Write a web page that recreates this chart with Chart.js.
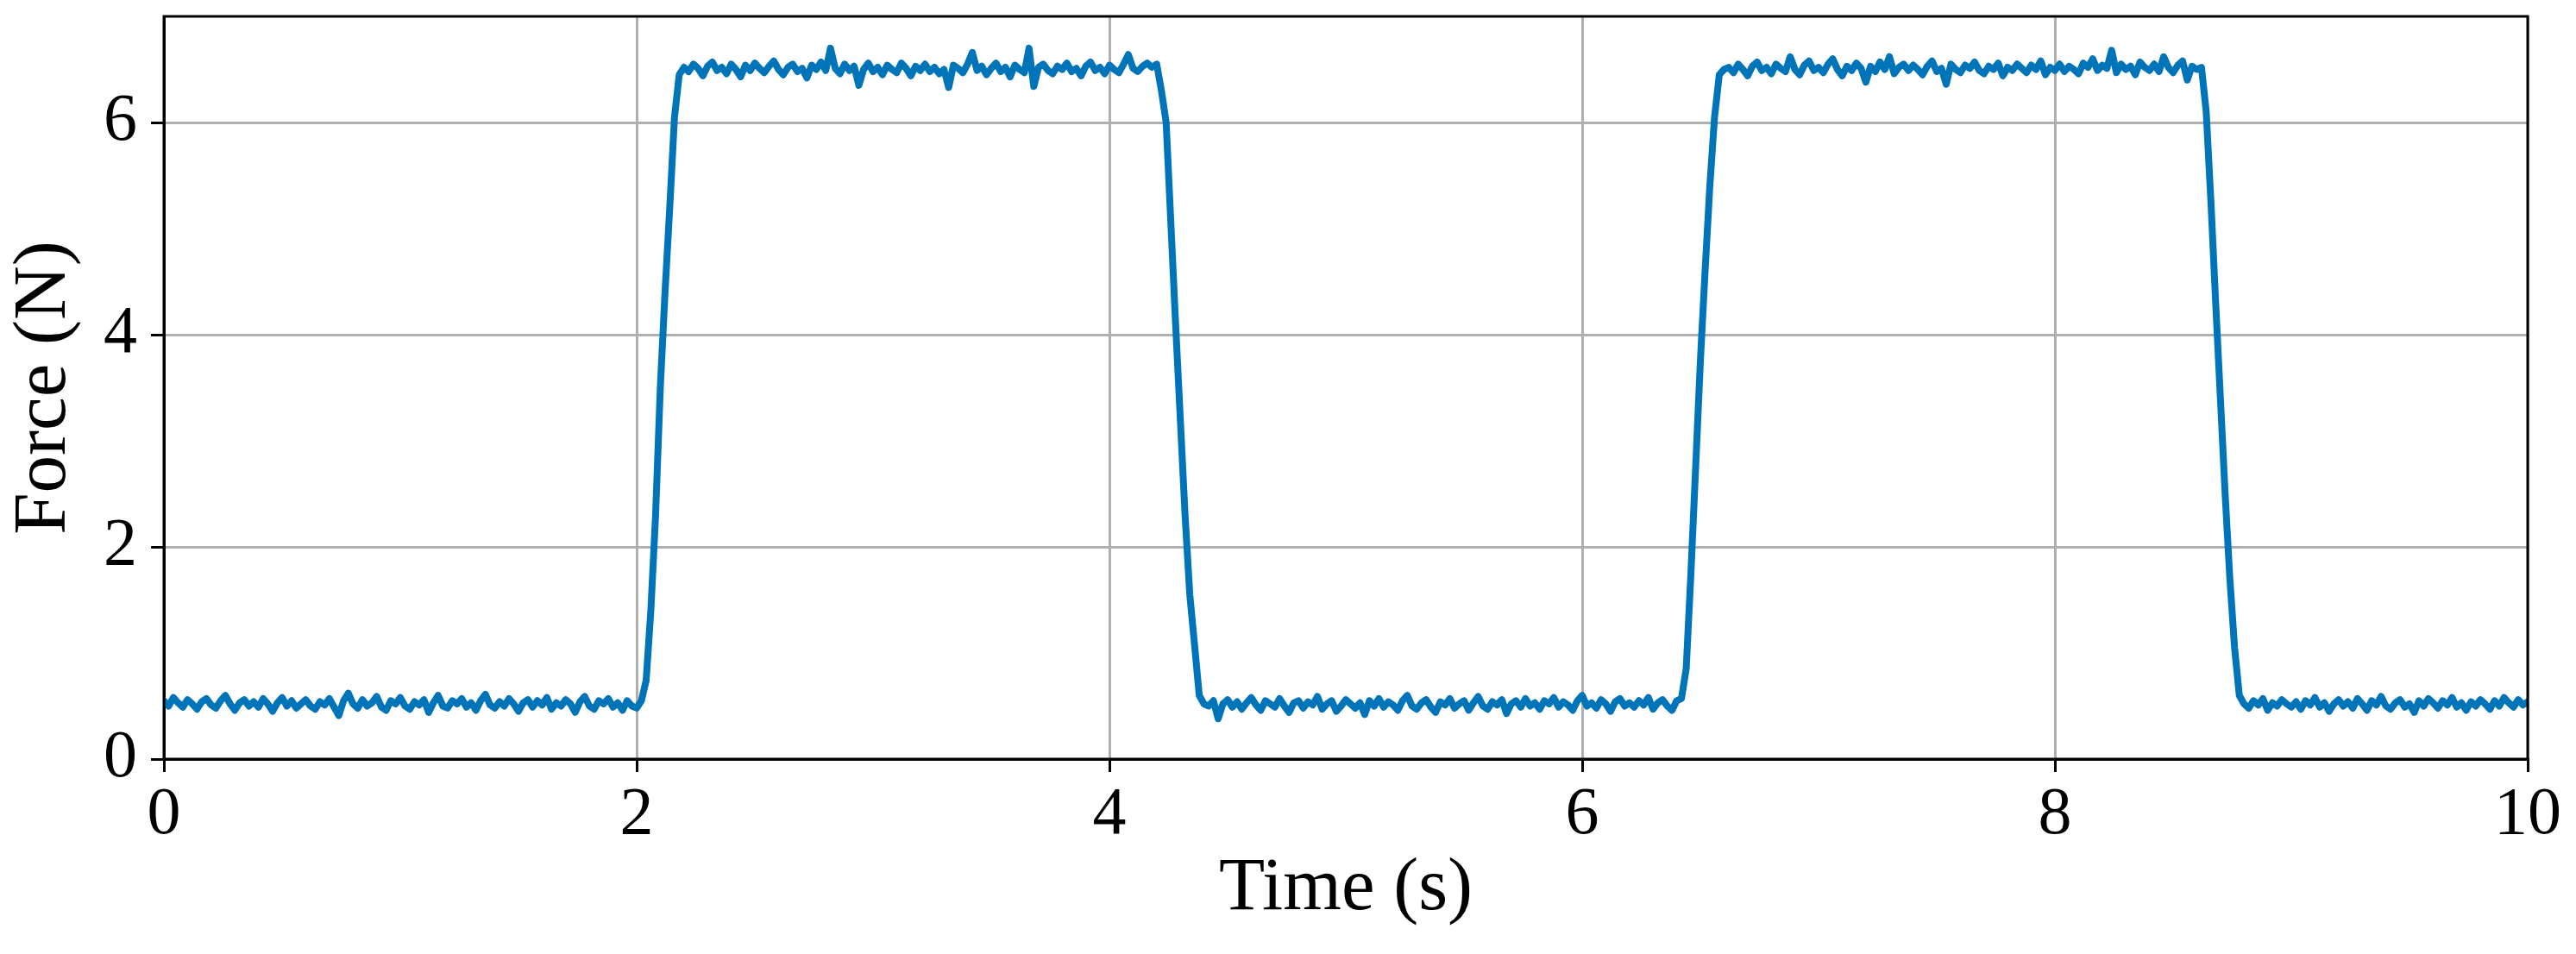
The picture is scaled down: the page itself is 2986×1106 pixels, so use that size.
<!DOCTYPE html>
<html>
<head>
<meta charset="utf-8">
<script src="https://cdn.jsdelivr.net/npm/chart.js@4.4.1/dist/chart.umd.min.js"></script>
<style>
  html, body { margin: 0; padding: 0; background: #ffffff; }
  #wrap { width: 2986px; height: 1106px; }
</style>
</head>
<body>
<div id="wrap"><canvas id="c" width="2986" height="1106"></canvas></div>
<script>
const timeStep = 0.02; // seconds between samples
const xTicks = [0, 2, 4, 6, 8, 10];
const yTicks = [0, 2, 4, 6];

// 0.00 – 2.00 s, low level
const lowA = [
  0.55,0.50,0.58,0.53,0.49,0.56,0.52,0.47,0.54,0.57,
  0.51,0.48,0.55,0.60,0.52,0.46,0.53,0.56,0.50,0.54,
  0.49,0.57,0.52,0.45,0.53,0.58,0.50,0.55,0.48,0.52,
  0.56,0.50,0.47,0.54,0.51,0.57,0.49,0.41,0.55,0.62,
  0.52,0.48,0.56,0.50,0.53,0.59,0.49,0.46,0.55,0.52,
  0.58,0.50,0.47,0.54,0.51,0.56,0.44,0.53,0.60,0.50,
  0.48,0.55,0.52,0.57,0.49,0.53,0.46,0.55,0.61,0.51,
  0.48,0.54,0.50,0.57,0.52,0.45,0.53,0.56,0.49,0.55,
  0.51,0.58,0.47,0.53,0.50,0.56,0.52,0.44,0.54,0.59,
  0.50,0.47,0.55,0.52,0.57,0.49,0.53,0.46,0.55,0.50,
  0.48
];
// 2.02 – 2.20 s, first rise
const rise1 = [0.55,0.74,1.40,2.30,3.50,4.40,5.20,6.05,6.45,6.52];
// 2.22 – 4.20 s, first high level
const high1 = [
  6.48,6.55,6.51,6.44,6.53,6.57,6.49,6.52,6.46,6.55,
  6.50,6.43,6.54,6.49,6.56,6.51,6.47,6.53,6.58,6.50,
  6.45,6.52,6.55,6.48,6.51,6.42,6.54,6.50,6.57,6.49,
  6.70,6.51,6.46,6.55,6.49,6.53,6.35,6.50,6.56,6.48,
  6.52,6.45,6.54,6.50,6.47,6.56,6.51,6.44,6.53,6.49,
  6.55,6.48,6.52,6.46,6.50,6.33,6.54,6.51,6.47,6.55,
  6.66,6.49,6.53,6.45,6.51,6.56,6.48,6.52,6.43,6.54,
  6.50,6.47,6.70,6.34,6.52,6.55,6.49,6.46,6.53,6.50,
  6.56,6.48,6.51,6.44,6.53,6.57,6.49,6.52,6.46,6.54,
  6.50,6.47,6.55,6.64,6.51,6.48,6.53,6.56,6.52,6.55
];
// 4.22 – 4.40 s, first fall
const fall1 = [6.30,6.00,5.05,4.10,3.20,2.30,1.55,1.08,0.60,0.52];
// 4.42 – 6.42 s, second low level
const lowB = [
  0.50,0.55,0.38,0.52,0.56,0.49,0.54,0.47,0.53,0.58,
  0.51,0.46,0.55,0.52,0.49,0.57,0.50,0.44,0.53,0.55,
  0.48,0.54,0.51,0.59,0.47,0.52,0.55,0.45,0.50,0.56,
  0.52,0.48,0.53,0.42,0.55,0.50,0.57,0.49,0.54,0.51,
  0.46,0.55,0.60,0.50,0.47,0.53,0.56,0.49,0.44,0.54,
  0.51,0.57,0.48,0.52,0.55,0.46,0.53,0.59,0.50,0.47,
  0.54,0.51,0.56,0.43,0.52,0.55,0.49,0.57,0.50,0.53,
  0.47,0.55,0.52,0.58,0.49,0.54,0.51,0.46,0.55,0.60,
  0.50,0.53,0.48,0.56,0.52,0.45,0.54,0.57,0.50,0.53,
  0.49,0.55,0.51,0.58,0.47,0.53,0.56,0.50,0.46,0.55,
  0.57
];
// 6.44 – 6.60 s, second rise
const rise2 = [0.85,1.75,2.75,3.75,4.60,5.40,6.05,6.45,6.50];
// 6.62 – 8.62 s, second high level
const high2 = [
  6.52,6.47,6.55,6.50,6.44,6.53,6.57,6.49,6.52,6.46,
  6.55,6.51,6.48,6.62,6.50,6.45,6.54,6.58,6.49,6.52,
  6.47,6.55,6.60,6.50,6.44,6.53,6.49,6.56,6.51,6.38,
  6.53,6.48,6.57,6.50,6.62,6.46,6.52,6.55,6.49,6.54,
  6.50,6.45,6.53,6.58,6.48,6.51,6.36,6.55,6.50,6.47,
  6.54,6.51,6.57,6.49,6.46,6.53,6.50,6.56,6.44,6.52,
  6.49,6.55,6.51,6.47,6.54,6.50,6.58,6.45,6.52,6.49,
  6.55,6.48,6.53,6.50,6.46,6.56,6.52,6.60,6.49,6.54,
  6.51,6.68,6.47,6.55,6.50,6.53,6.45,6.57,6.52,6.49,
  6.55,6.48,6.62,6.52,6.47,6.54,6.58,6.40,6.53,6.50,
  6.52
];
// 8.64 – 8.80 s, second fall
const fall2 = [6.10,5.25,4.30,3.40,2.50,1.70,1.05,0.60,0.52];
// 8.82 – 10.00 s, third low level
const lowC = [
  0.48,0.55,0.51,0.57,0.46,0.53,0.50,0.56,0.52,0.49,
  0.54,0.47,0.55,0.51,0.58,0.49,0.53,0.45,0.52,0.56,
  0.50,0.54,0.48,0.57,0.52,0.46,0.55,0.51,0.59,0.50,
  0.47,0.53,0.56,0.49,0.52,0.44,0.55,0.50,0.57,0.53,
  0.48,0.55,0.51,0.58,0.49,0.53,0.46,0.54,0.50,0.56,
  0.52,0.47,0.55,0.50,0.58,0.53,0.49,0.56,0.51,0.54
];

const force = [].concat(lowA, rise1, high1, fall1, lowB, rise2, high2, fall2, lowC);
const times = force.map((_, i) => +(i * timeStep).toFixed(2));
const points = times.map((t, i) => ({ x: t, y: force[i] }));

// ---- Styling ----
const FONT = "'Liberation Serif', 'Times New Roman', serif";
const LINE_COLOR = '#0074B9';

const frame = {
  id: 'frame',
  afterDatasetsDraw(chart) {
    const a = chart.chartArea, ctx = chart.ctx;
    ctx.save();
    ctx.strokeStyle = '#000';
    ctx.lineWidth = 3;
    ctx.strokeRect(a.left, a.top, a.right - a.left, a.bottom - a.top);
    ctx.restore();
  }
};

new Chart(document.getElementById('c'), {
  type: 'line',
  data: {
    datasets: [{
      data: points,
      borderColor: LINE_COLOR,
      borderWidth: 8,
      pointRadius: 0,
      tension: 0,
      borderJoinStyle: 'round',
      borderCapStyle: 'round',
      fill: false
    }]
  },
  options: {
    responsive: false,
    animation: false,
    devicePixelRatio: 1,
    layout: { padding: { left: 0, right: 56, top: 19, bottom: 0 } },
    plugins: { legend: { display: false }, tooltip: { enabled: false } },
    scales: {
      x: {
        type: 'linear',
        min: 0, max: 10,
        afterBuildTicks(s) { s.ticks = xTicks.map(v => ({ value: v })); },
        afterFit(s) { s.height = 226; s.paddingLeft = 0; s.paddingRight = 0; },
        grid: { color: '#b0b0b0', lineWidth: 3, tickColor: '#000', tickWidth: 3, tickLength: 15 },
        border: { display: true, color: '#000', width: 3 },
        ticks: { font: { family: FONT, size: 78 }, color: '#000', padding: 4, maxRotation: 0, autoSkip: false },
        title: { display: true, text: 'Time (s)', color: '#000', font: { family: FONT, size: 87 }, padding: { top: 0, bottom: 23 } }
      },
      y: {
        type: 'linear',
        min: 0, max: 7,
        afterBuildTicks(s) { s.ticks = yTicks.map(v => ({ value: v })); },
        afterFit(s) { s.width = 190; s.paddingTop = 0; s.paddingBottom = 0; },
        grid: { color: '#b0b0b0', lineWidth: 3, tickColor: '#000', tickWidth: 3, tickLength: 15 },
        border: { display: true, color: '#000', width: 3 },
        ticks: { font: { family: FONT, size: 78 }, color: '#000', padding: 16, autoSkip: false },
        title: { display: true, text: 'Force (N)', color: '#000', font: { family: FONT, size: 87 }, padding: { top: 0, bottom: 0 } }
      }
    }
  },
  plugins: [frame]
});
</script>
</body>
</html>
